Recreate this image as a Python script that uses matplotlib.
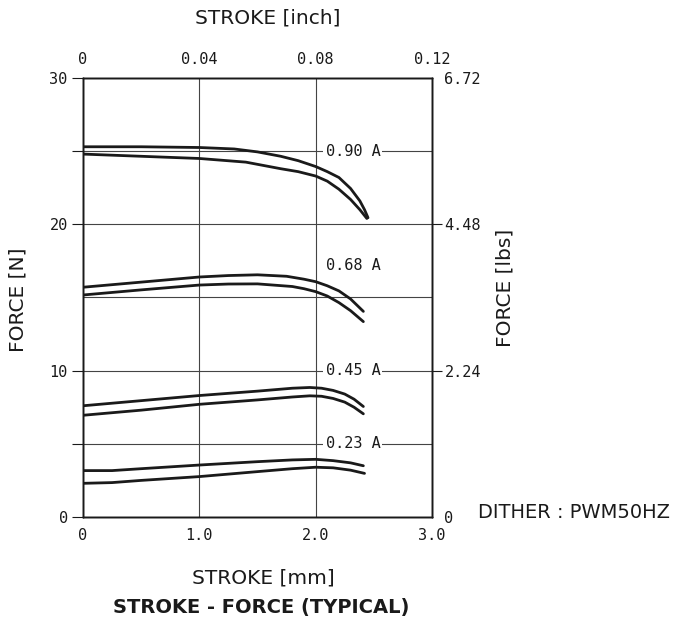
import matplotlib
matplotlib.use("Agg")
import matplotlib.pyplot as plt

# =====================================
# Data
# =====================================

stroke_090_hi = [0, 0.5, 1.0, 1.3, 1.5, 1.7, 1.85, 2.0, 2.1, 2.2, 2.3, 2.38, 2.42, 2.45]
force_090_hi = [25.3, 25.3, 25.25, 25.15, 24.95, 24.65, 24.35, 23.95, 23.6, 23.2, 22.45, 21.6, 21.0, 20.45]
stroke_090_lo = [0, 0.5, 1.0, 1.4, 1.7, 1.85, 2.0, 2.1, 2.2, 2.3, 2.38, 2.44]
force_090_lo = [24.8, 24.65, 24.5, 24.25, 23.8, 23.6, 23.3, 22.95, 22.4, 21.7, 21.0, 20.4]

stroke_068_hi = [0, 0.5, 1.0, 1.25, 1.5, 1.75, 1.9, 2.0, 2.1, 2.2, 2.3, 2.41]
force_068_hi = [15.7, 16.05, 16.4, 16.5, 16.55, 16.45, 16.25, 16.08, 15.8, 15.45, 14.9, 14.05]
stroke_068_lo = [0, 0.5, 1.0, 1.25, 1.5, 1.8, 1.9, 2.0, 2.1, 2.2, 2.3, 2.41]
force_068_lo = [15.17, 15.52, 15.85, 15.92, 15.93, 15.75, 15.6, 15.4, 15.1, 14.65, 14.1, 13.35]

stroke_045 = [0, 0.5, 1.0, 1.5, 1.8, 1.95, 2.05, 2.15, 2.25, 2.33, 2.41]
force_045_hi = [7.6, 7.95, 8.3, 8.6, 8.8, 8.85, 8.8, 8.65, 8.4, 8.05, 7.55]
force_045_lo = [6.95, 7.3, 7.7, 8.0, 8.2, 8.28, 8.25, 8.1, 7.85, 7.5, 7.05]

stroke_023_hi = [0, 0.25, 0.5, 1.0, 1.5, 1.8, 2.0, 2.15, 2.3, 2.41]
force_023_hi = [3.17, 3.17, 3.3, 3.55, 3.78, 3.9, 3.94, 3.85, 3.7, 3.5]
stroke_023_lo = [0, 0.25, 0.5, 1.0, 1.5, 1.8, 2.0, 2.15, 2.3, 2.42]
force_023_lo = [2.3, 2.35, 2.5, 2.76, 3.1, 3.3, 3.4, 3.36, 3.2, 2.98]

current_labels = ["0.90 A", "0.68 A", "0.45 A", "0.23 A"]
label_force = [25, 17.2, 10, 5]
label_stroke = 2.32

mm_ticks = [0, 1.0, 2.0, 3.0]
mm_labels = ["0", "1.0", "2.0", "3.0"]
n_ticks = [0, 10, 20, 30]
inch_ticks = [0, 0.04, 0.08, 0.12]
inch_labels = ["0", "0.04", "0.08", "0.12"]
lbs_ticks = [0, 2.24, 4.48, 6.72]
lbs_labels = ["0", "2.24", "4.48", "6.72"]

# =====================================
# Figure
# =====================================

ink = "#1a1a1a"
grid_c = "#444444"
mono = "DejaVu Sans Mono"
sans = "DejaVu Sans"
W, H = 673, 621

fig = plt.figure(figsize=(W / 100, H / 100), dpi=100)
ax = fig.add_axes([0.1233, 0.1675, 0.5186, 0.7069])

ax.set_xlim(0, 3.0)
ax.set_ylim(0, 30)

for x in [1.0, 2.0]:
    ax.axvline(x, color=grid_c, lw=0.8, zorder=1)
for y in [5, 10, 15, 20, 25]:
    ax.axhline(y, color=grid_c, lw=0.8, zorder=1)

curves = [
    (stroke_090_hi, force_090_hi), (stroke_090_lo, force_090_lo),
    (stroke_068_hi, force_068_hi), (stroke_068_lo, force_068_lo),
    (stroke_045, force_045_hi), (stroke_045, force_045_lo),
    (stroke_023_hi, force_023_hi), (stroke_023_lo, force_023_lo),
]
for xs, ys in curves:
    ax.plot(xs, ys, color=ink, lw=2.0, solid_capstyle="round", zorder=3)

for lab, fy in zip(current_labels, label_force):
    ax.text(label_stroke, fy, lab, ha="center", va="center", fontsize=11,
            family=mono, color=ink, zorder=4,
            bbox=dict(facecolor="white", edgecolor="none", pad=1.5))

for s in ax.spines.values():
    s.set_color(ink)
    s.set_linewidth(1.0)

ax.set_xticks(mm_ticks)
ax.set_xticklabels(mm_labels, family=mono, fontsize=11, color=ink)
ax.set_yticks(n_ticks)
ax.set_yticklabels([str(v) for v in n_ticks], family=mono, fontsize=11, color=ink)
ax.set_yticks([5, 25], minor=True)
ax.tick_params(axis="x", length=0, pad=8)
ax.tick_params(axis="y", which="both", direction="out", length=8, width=0.8,
               pad=3, color=ink)
# no tick marks at the corners
yt = ax.yaxis.get_major_ticks()
yt[0].tick1line.set_visible(False)
yt[-1].tick1line.set_visible(False)

# top axis in inch
ax_top = ax.twiny()
ax_top.set_xlim(0, 0.12)
ax_top.set_xticks(inch_ticks)
ax_top.set_xticklabels(inch_labels, family=mono, fontsize=11, color=ink)
ax_top.tick_params(axis="x", length=0, pad=8)

# right axis in lbs
ax_r = ax.twinx()
ax_r.set_ylim(0, 6.72)
ax_r.set_yticks(lbs_ticks)
ax_r.set_yticklabels(lbs_labels, family=mono, fontsize=11, color=ink)
ax_r.tick_params(axis="y", direction="out", length=7, width=0.8, pad=2,
                 color=ink)
rt = ax_r.yaxis.get_major_ticks()
rt[0].tick2line.set_visible(False)
rt[-1].tick2line.set_visible(False)

for a in [ax_top, ax_r]:
    for s in a.spines.values():
        s.set_color(ink)
        s.set_linewidth(1.0)

# axis titles and notes
lab_kw = dict(family=sans, fontsize=14.5, color=ink, ha="center", va="center")
fig.text(268 / W, 1 - 18 / H, "STROKE [inch]", **lab_kw)
fig.text(263 / W, 1 - 578 / H, "STROKE [mm]", **lab_kw)
fig.text(18 / W, 1 - 300 / H, "FORCE [N]", rotation=90, **lab_kw)
fig.text(505 / W, 1 - 288 / H, "FORCE [lbs]", rotation=90, **lab_kw)

fig.text(478 / W, 1 - 512 / H, "DITHER : PWM50HZ", family=sans, fontsize=14,
         color=ink, ha="left", va="center")
fig.text(261 / W, 1 - 607 / H, "STROKE - FORCE (TYPICAL)", family=sans,
         fontsize=14, color=ink, ha="center", va="center", weight="bold")

fig.savefig("out.png", dpi=100, facecolor="white")
